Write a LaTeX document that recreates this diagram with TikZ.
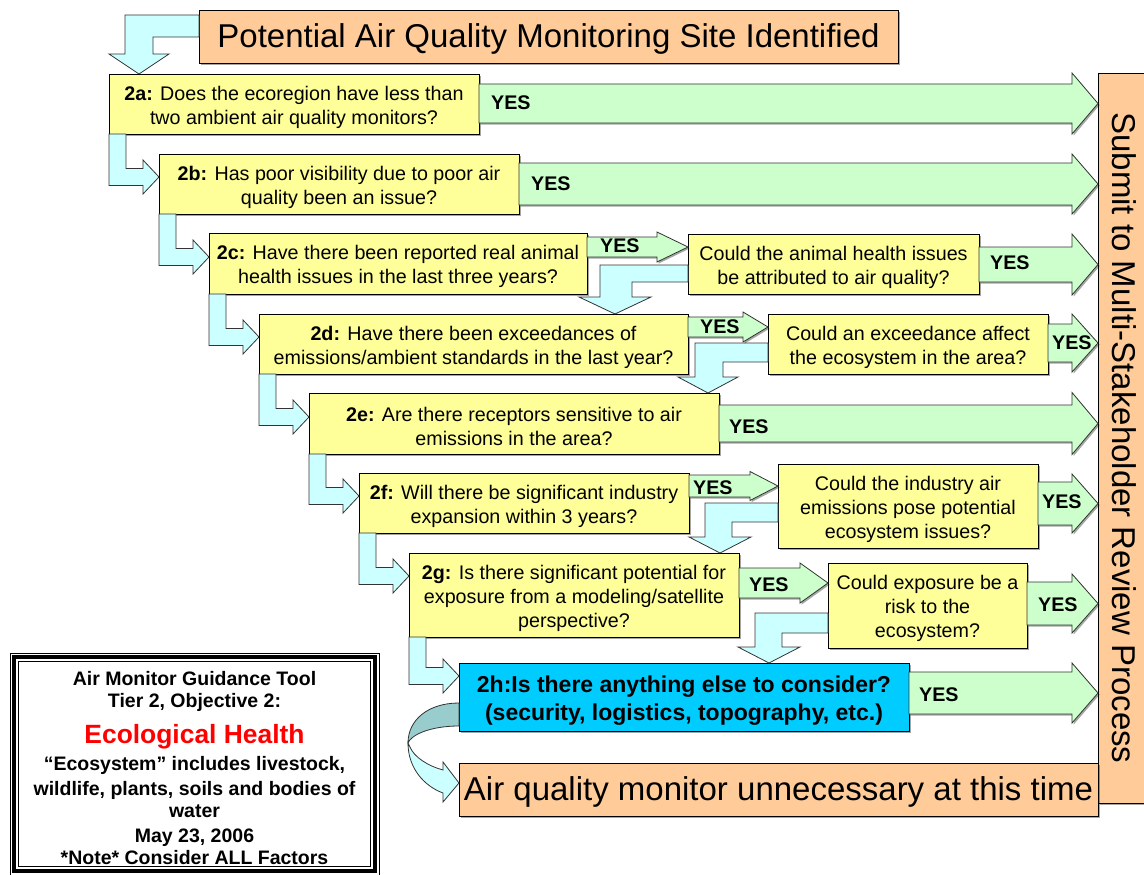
\documentclass[tikz,border=0pt]{standalone}
\usepackage{fontspec}
\setmainfont{Liberation Sans}
\usetikzlibrary{calc,shadows}

\definecolor{qyellow}{HTML}{FFFF99}
\definecolor{yesgreen}{HTML}{CCFFCC}
\definecolor{flowcyan}{HTML}{CCFFFF}
\definecolor{endorange}{HTML}{FFCC99}
\definecolor{lastblue}{HTML}{00CCFF}
\definecolor{curvedark}{HTML}{99CCCC}
\definecolor{edgegray}{HTML}{333333}

\newcommand\boxfont{\fontsize{19.7}{24}\selectfont}
\newcommand\lastfont{\fontsize{23}{28}\selectfont\bfseries}
\newcommand\bigfont{\fontsize{33}{38}\selectfont}
\newcommand\notefont{\fontsize{19.5}{23}\selectfont\bfseries}
% extra height on the first line lowers the text a little inside its box
\newcommand\firstline{\rule{0pt}{20.5pt}}
\newcommand\bigfirstline{\rule{0pt}{29.5pt}}

% green YES arrow: from, to, centre y, half band, half head, head length
\newcommand\yesarrow[6]{%
  \path[yesshape] (#1.east |- 0,#3-#4)
    -- ($(#2.west |- 0,#3-#4)+(-#6,0)$)
    -- ($(#2.west |- 0,#3-#5)+(-#6,0)$)
    -- (#2.west |- 0,#3)
    -- ($(#2.west |- 0,#3+#5)+(-#6,0)$)
    -- ($(#2.west |- 0,#3+#4)+(-#6,0)$)
    -- (#1.east |- 0,#3+#4) -- cycle;}

% bent arrow from the lower left corner of one question to the left side of the next
\newcommand\bendright[3]{%
  \path[flowshape] (#1.south west) -- ++(17,0)
    |- ($(#2.west |- 0,#3)+(-16,-8.5)$)
    -- ++(0,-8.5) -- (#2.west |- 0,#3)
    -- ($(#2.west |- 0,#3)+(-16,17)$)
    -- ++(0,-8.5) -| (#1.south west) -- cycle;}

% bent arrow from a follow-up question back down to the next main question:
% from, to, band top, band bottom, outer x, inner x, head base y, head half width, tip x
\newcommand\backarrow[9]{%
  \path[flowshape] (#1.west |- 0,#3) -- (#5,#3) -- (#5,#7) -- (#9-#8,#7)
    -- (#9,0 |- #2.north) -- (#9+#8,#7) -- (#6,#7) -- (#6,#4)
    -- (#1.west |- 0,#4) -- cycle;}

\begin{document}
\begin{tikzpicture}[x=1pt,y=-1pt,
  boxshadow/.style={drop shadow={shadow xshift=1.6pt, shadow yshift=-1.6pt, fill=black, opacity=0.35}},
  qbox/.style={draw=black, line width=0.9pt, fill=qyellow, inner sep=1pt,
    outer sep=0pt, anchor=north west, align=center, font=\boxfont, boxshadow},
  endbox/.style={draw=black, line width=0.9pt, fill=endorange, inner sep=0pt,
    outer sep=0pt, anchor=north west, align=center, font=\bigfont, boxshadow},
  yesshape/.style={draw=edgegray, line width=0.8pt, fill=yesgreen, line join=miter, boxshadow},
  flowshape/.style={draw=edgegray, line width=0.8pt, fill=flowcyan, line join=miter},
  yeslabel/.style={font=\boxfont\bfseries, anchor=west, inner sep=0pt},
  noteline/.style={font=\notefont, anchor=base, inner sep=0pt}]

\useasboundingbox (0,0) rectangle (1144,875);

% start and end boxes
\node[endbox, minimum width=699pt, minimum height=53pt] (start) at (199,10)
  {\bigfirstline Potential Air Quality Monitoring Site Identified};
\node[endbox, minimum width=50pt, minimum height=730pt] (submit) at (1098,73) {};
\node[font=\bigfont, rotate=-90, inner sep=0pt] (submittext) at (1124,438)
  {Submit to Multi-Stakeholder Review Process};
\node[endbox, minimum width=639pt, minimum height=53pt] (none) at (459,763)
  {\bigfirstline Air quality monitor unnecessary at this time};

% main questions
\node[qbox, minimum width=370pt, minimum height=60pt] (q2a) at (109,74)
  {\firstline\textbf{2a:} Does the ecoregion have less than\\two ambient air quality monitors?};
\node[qbox, minimum width=360pt, minimum height=60pt] (q2b) at (159,154)
  {\firstline\textbf{2b:} Has poor visibility due to poor air\\quality been an issue?};
\node[qbox, minimum width=378pt, minimum height=61pt] (q2c) at (209,233)
  {\firstline\textbf{2c:} Have there been reported real animal\\health issues in the last three years?};
\node[qbox, minimum width=429pt, minimum height=60pt] (q2d) at (259,314)
  {\firstline\textbf{2d:} Have there been exceedances of\\emissions/ambient standards in the last year?};
\node[qbox, minimum width=410pt, minimum height=61pt] (q2e) at (309,393)
  {\firstline\textbf{2e:} Are there receptors sensitive to air\\emissions in the area?};
\node[qbox, minimum width=330pt, minimum height=60pt] (q2f) at (359,473)
  {\firstline\textbf{2f:} Will there be significant industry\\expansion within 3 years?};
\node[qbox, minimum width=330pt, minimum height=84pt] (q2g) at (409,553)
  {\firstline\textbf{2g:} Is there significant potential for\\exposure from a modeling/satellite\\perspective?};
\node[qbox, fill=lastblue, font=\lastfont, minimum width=450pt, minimum height=68pt] (q2h) at (459,663)
  {\rule{0pt}{23pt}2h:Is there anything else to consider?\\(security, logistics, topography, etc.)};

% follow-up questions
\node[qbox, minimum width=291pt, minimum height=60pt] (fc) at (688,234)
  {\firstline Could the animal health issues\\be attributed to air quality?};
\node[qbox, minimum width=280pt, minimum height=60pt] (fd) at (768,314)
  {\firstline Could an exceedance affect\\the ecosystem in the area?};
\node[qbox, minimum width=260pt, minimum height=84pt] (ff) at (778,464)
  {\firstline Could the industry air\\emissions pose potential\\ecosystem issues?};
\node[qbox, minimum width=199pt, minimum height=85pt] (fg) at (828,563)
  {\firstline Could exposure be a\\risk to the\\ecosystem?};

% start arrow
\path[flowshape] (start.west |- 0,15) -- (125,15) -- (125,54) -- (109,54)
  -- (139,0 |- q2a.north) -- (169,54) -- (153,54) -- (153,37)
  -- (start.west |- 0,37) -- cycle;

% "no" path between the main questions
\bendright{q2a}{q2b}{177}
\bendright{q2b}{q2c}{257}
\bendright{q2c}{q2d}{337}
\bendright{q2d}{q2e}{417}
\bendright{q2e}{q2f}{496}
\bendright{q2f}{q2g}{576}
\bendright{q2g}{q2h}{676}

% "no" path from the follow-up questions
\backarrow{fc}{q2d}{265}{282}{600}{632}{297}{36}{615}
\backarrow{fd}{q2e}{343}{362}{695}{723}{377}{30}{708}
\backarrow{ff}{q2g}{503}{522}{705}{732}{537}{31}{720}
\backarrow{fg}{q2h}{613}{633}{755}{782}{647}{31}{769}

% YES arrows
\yesarrow{q2a}{submit}{103.5}{19.5}{30.5}{26}
\yesarrow{q2b}{submit}{184}{21}{30}{26}
\yesarrow{q2c}{fc}{247}{10}{15}{31}
\yesarrow{fc}{submit}{264.5}{17.5}{30.5}{26}
\yesarrow{q2d}{fd}{327}{10}{15}{25}
\yesarrow{fd}{submit}{343}{19}{29}{26}
\yesarrow{q2e}{submit}{423.5}{18.5}{31}{26}
\yesarrow{q2f}{ff}{486}{11}{14.5}{28}
\yesarrow{ff}{submit}{503.5}{21.5}{29.5}{26}
\yesarrow{q2g}{fg}{583}{15}{20}{28}
\yesarrow{fg}{submit}{603.5}{21.5}{29.5}{26}
\yesarrow{q2h}{submit}{693}{21}{30}{26}

\node[yeslabel] (y2a) at ($(q2a.east |- 0,103)+(12,0)$) {YES};
\node[yeslabel] (y2b) at ($(q2b.east |- 0,184)+(12,0)$) {YES};
\node[yeslabel] (y2c) at ($(q2c.east |- 0,246)+(13,0)$) {YES};
\node[yeslabel] (yfc) at ($(fc.east |- 0,263)+(11,0)$) {YES};
\node[yeslabel] (y2d) at ($(q2d.east |- 0,327)+(12,0)$) {YES};
\node[yeslabel] (yfd) at ($(fd.east |- 0,343)+(4,0)$) {YES};
\node[yeslabel] (y2e) at ($(q2e.east |- 0,427)+(10,0)$) {YES};
\node[yeslabel] (y2f) at ($(q2f.east |- 0,488)+(4,0)$) {YES};
\node[yeslabel] (yff) at ($(ff.east |- 0,502)+(4,0)$) {YES};
\node[yeslabel] (y2g) at ($(q2g.east |- 0,585)+(10,0)$) {YES};
\node[yeslabel] (yfg) at ($(fg.east |- 0,605)+(11,0)$) {YES};
\node[yeslabel] (y2h) at ($(q2h.east |- 0,695)+(10,0)$) {YES};

% curved arrow from 2h to the final box
\path[draw=edgegray, line width=0.8pt, fill=curvedark]
  (q2h.west |- 0,703) .. controls (428,703) and (408,720) .. (408,743)
  .. controls (411,735) and (430,726) .. (q2h.west |- 0,726) -- cycle;
\path[flowshape] (408,743) .. controls (408,768) and (424,786) .. ($(none.west |- 0,793)+(-16,0)$)
  -- ++(0,9) -- (none.west |- 0,783) -- ($(none.west |- 0,762)+(-16,0)$)
  -- ++(0,8) .. controls (428,766) and (414,757) .. (410,747) -- cycle;

% note box
\node[draw=black, line width=4pt, minimum width=361pt, minimum height=214pt,
  anchor=north west, inner sep=0pt, outer sep=0pt] (note) at (14,657) {};
\draw[line width=0.7pt] ($(note.north west)+(-4,-4)$) rectangle ($(note.south east)+(4,4)$);
\draw[line width=0.7pt] ($(note.north west)+(4.5,4.5)$) rectangle ($(note.south east)+(-4.5,-4.5)$);
\node[noteline] (n1) at (194.5,685) {Air Monitor Guidance Tool};
\node[noteline] (n2) at (194.5,707) {Tier 2, Objective 2:};
\node[noteline, font=\fontsize{26.4}{30}\selectfont\bfseries, text=red] (n3) at (194.5,743) {Ecological Health};
\node[noteline] (n4) at (194.5,770) {“Ecosystem” includes livestock,};
\node[noteline] (n5) at (194.5,795) {wildlife, plants, soils and bodies of};
\node[noteline] (n6) at (194.5,817) {water};
\node[noteline] (n7) at (194.5,842) {May 23, 2006};
\node[noteline] (n8) at (194.5,864) {*Note* Consider ALL Factors};

\end{tikzpicture}
\end{document}
